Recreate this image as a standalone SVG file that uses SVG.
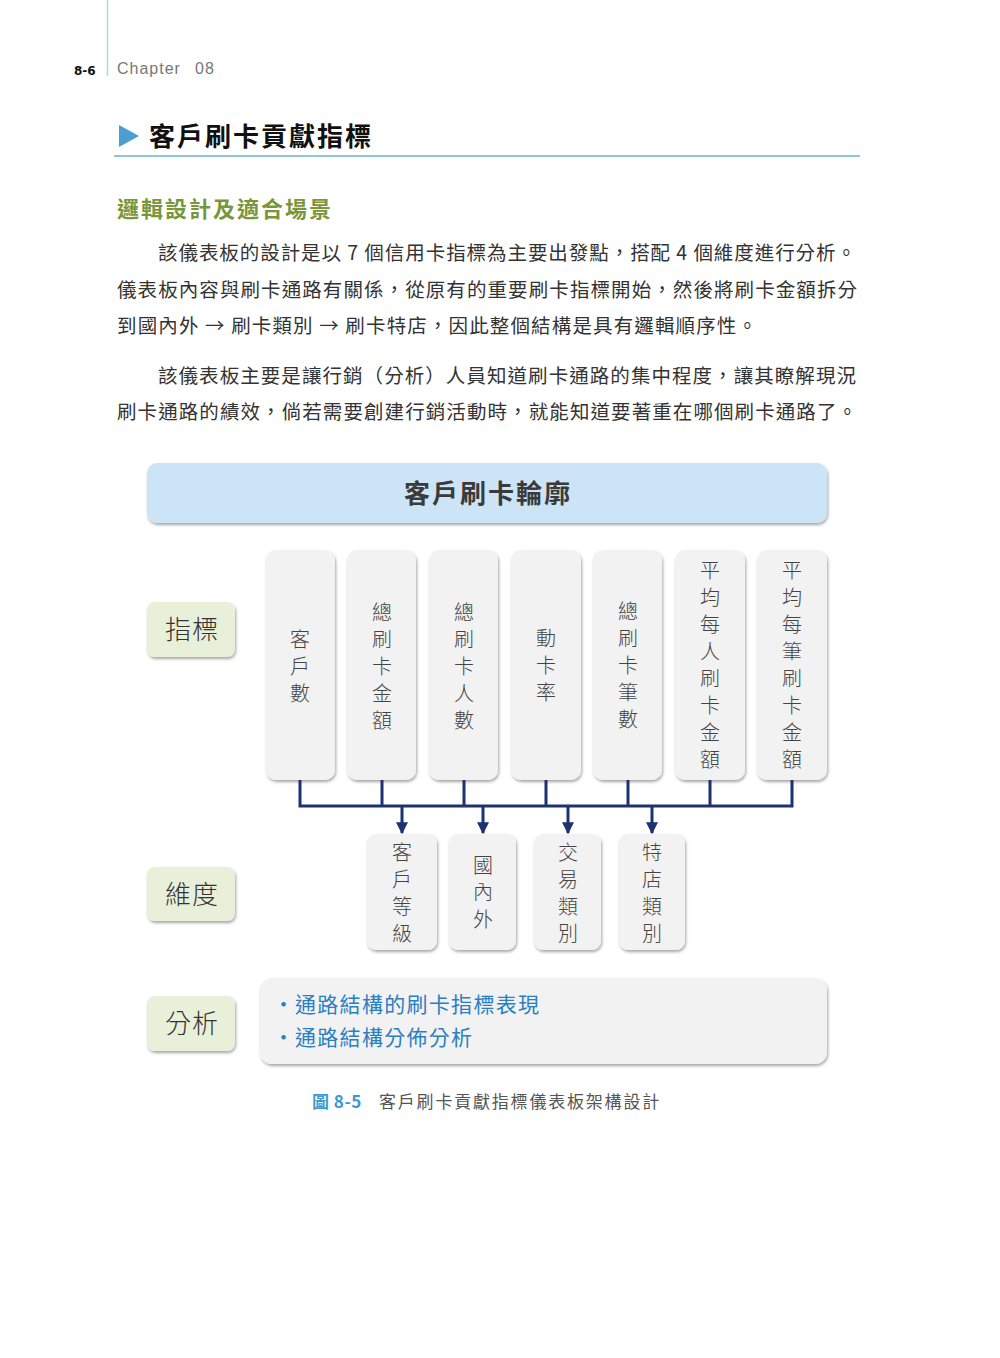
<svg xmlns="http://www.w3.org/2000/svg" width="1000" height="1358" viewBox="0 0 1000 1358">
<style>
text{font-family:"Noto Sans CJK TC","Noto Sans CJK SC",sans-serif}
.body{font-size:19.5px;fill:#333}
.lbl{font-size:26px;fill:#333;text-anchor:middle;font-weight:300}
.col{fill:#f2f2f2}
.vt{font-size:20px;fill:#444;text-anchor:middle;font-weight:300}
.green{fill:#e9f0da}
.conn{stroke:#1d3270;stroke-width:3;fill:none}
.blue{font-size:21px;fill:#2a7fc2}
</style>
<defs>
<filter id="sh" x="-20%" y="-20%" width="140%" height="140%">
<feDropShadow dx="1" dy="2" stdDeviation="1.6" flood-color="#000" flood-opacity="0.35"/>
</filter>
<marker id="ah" viewBox="0 0 10 10" refX="9" refY="5" markerWidth="4" markerHeight="4" orient="auto" markerUnits="strokeWidth">
<path d="M0,0 L10,5 L0,10 z" fill="#1d3270"/>
</marker>
</defs>
<rect width="1000" height="1358" fill="#fff"/>

<!-- header -->
<line x1="107.5" y1="0" x2="107.5" y2="76" stroke="#a8dde0" stroke-width="1.5"/>
<text x="74" y="75" font-size="12" font-weight="bold" fill="#111" style="font-family:'DejaVu Sans',sans-serif">8-6</text>
<text x="117" y="74" font-size="16" fill="#777" letter-spacing="1" style="font-family:'Liberation Sans',sans-serif">Chapter</text>
<text x="195" y="74" font-size="16" fill="#777" letter-spacing="1" style="font-family:'Liberation Sans',sans-serif">08</text>

<!-- title -->
<polygon points="119,125 139,136 119,147" fill="#4a9fd0"/>
<text x="149" y="146" font-size="26" font-weight="bold" fill="#111" letter-spacing="2">客戶刷卡貢獻指標</text>
<line x1="114" y1="156" x2="860" y2="156" stroke="#6ab2d2" stroke-width="1.5"/>

<text x="117" y="217" font-size="22" font-weight="bold" fill="#7a963a" letter-spacing="2">邏輯設計及適合場景</text>

<text class="body" x="158" y="260" textLength="698" lengthAdjust="spacing">該儀表板的設計是以 7 個信用卡指標為主要出發點，搭配 4 個維度進行分析。</text>
<text class="body" x="117" y="297" textLength="740" lengthAdjust="spacing">儀表板內容與刷卡通路有關係，從原有的重要刷卡指標開始，然後將刷卡金額拆分</text>
<text class="body" x="117" y="333" textLength="640" lengthAdjust="spacing">到國內外 → 刷卡類別 → 刷卡特店，因此整個結構是具有邏輯順序性。</text>
<text class="body" x="158" y="383" textLength="698" lengthAdjust="spacing">該儀表板主要是讓行銷（分析）人員知道刷卡通路的集中程度，讓其瞭解現況</text>
<text class="body" x="117" y="419" textLength="740" lengthAdjust="spacing">刷卡通路的績效，倘若需要創建行銷活動時，就能知道要著重在哪個刷卡通路了。</text>

<!-- banner -->
<g id="banner">
<rect x="147" y="463" width="680" height="60" rx="10" fill="#cce4f5" filter="url(#sh)"/>
<text x="488" y="503" font-size="26" font-weight="bold" fill="#3a3a3a" text-anchor="middle" letter-spacing="2">客戶刷卡輪廓</text>
</g>

<!-- side labels -->
<g id="lbl-metrics"><rect class="green" x="147" y="602" width="88" height="55" rx="8" filter="url(#sh)"/><text class="lbl" x="192" y="639" letter-spacing="1">指標</text></g>
<g id="lbl-dims"><rect class="green" x="147" y="867" width="88" height="54" rx="8" filter="url(#sh)"/><text class="lbl" x="192" y="904" letter-spacing="1">維度</text></g>
<g id="lbl-analysis"><rect class="green" x="147" y="996" width="88" height="55" rx="8" filter="url(#sh)"/><text class="lbl" x="192" y="1033" letter-spacing="1">分析</text></g>

<!-- metric columns -->
<g id="m1"><rect class="col" x="266" y="550" width="69" height="230" rx="10" filter="url(#sh)"/>
<text class="vt"><tspan x="300" y="647">客</tspan><tspan x="300" dy="27">戶</tspan><tspan x="300" dy="27">數</tspan></text></g>
<g id="m2"><rect class="col" x="347" y="550" width="69" height="230" rx="10" filter="url(#sh)"/>
<text class="vt"><tspan x="382" y="620">總</tspan><tspan x="382" dy="27">刷</tspan><tspan x="382" dy="27">卡</tspan><tspan x="382" dy="27">金</tspan><tspan x="382" dy="27">額</tspan></text></g>
<g id="m3"><rect class="col" x="429" y="550" width="69" height="230" rx="10" filter="url(#sh)"/>
<text class="vt"><tspan x="464" y="620">總</tspan><tspan x="464" dy="27">刷</tspan><tspan x="464" dy="27">卡</tspan><tspan x="464" dy="27">人</tspan><tspan x="464" dy="27">數</tspan></text></g>
<g id="m4"><rect class="col" x="511" y="550" width="70" height="230" rx="10" filter="url(#sh)"/>
<text class="vt"><tspan x="546" y="646">動</tspan><tspan x="546" dy="27">卡</tspan><tspan x="546" dy="27">率</tspan></text></g>
<g id="m5"><rect class="col" x="593" y="550" width="69" height="230" rx="10" filter="url(#sh)"/>
<text class="vt"><tspan x="628" y="619">總</tspan><tspan x="628" dy="27">刷</tspan><tspan x="628" dy="27">卡</tspan><tspan x="628" dy="27">筆</tspan><tspan x="628" dy="27">數</tspan></text></g>
<g id="m6"><rect class="col" x="675" y="550" width="70" height="230" rx="10" filter="url(#sh)"/>
<text class="vt"><tspan x="710" y="578">平</tspan><tspan x="710" dy="27">均</tspan><tspan x="710" dy="27">每</tspan><tspan x="710" dy="27">人</tspan><tspan x="710" dy="27">刷</tspan><tspan x="710" dy="27">卡</tspan><tspan x="710" dy="27">金</tspan><tspan x="710" dy="27">額</tspan></text></g>
<g id="m7"><rect class="col" x="757" y="550" width="70" height="230" rx="10" filter="url(#sh)"/>
<text class="vt"><tspan x="792" y="578">平</tspan><tspan x="792" dy="27">均</tspan><tspan x="792" dy="27">每</tspan><tspan x="792" dy="27">筆</tspan><tspan x="792" dy="27">刷</tspan><tspan x="792" dy="27">卡</tspan><tspan x="792" dy="27">金</tspan><tspan x="792" dy="27">額</tspan></text></g>

<!-- connectors -->
<g id="connectors">
<path class="conn" d="M300,780 V806 M382,780 V806 M464,780 V806 M546,780 V806 M628,780 V806 M710,780 V806 M792,780 V806 M298.5,806 H793.5"/>
<line class="conn" x1="402" y1="806" x2="402" y2="833" marker-end="url(#ah)"/>
<line class="conn" x1="483" y1="806" x2="483" y2="833" marker-end="url(#ah)"/>
<line class="conn" x1="568" y1="806" x2="568" y2="833" marker-end="url(#ah)"/>
<line class="conn" x1="652" y1="806" x2="652" y2="833" marker-end="url(#ah)"/>
</g>

<!-- dimensions -->
<g id="d1"><rect class="col" x="367" y="834" width="70" height="116" rx="9" filter="url(#sh)"/>
<text class="vt"><tspan x="402" y="860">客</tspan><tspan x="402" dy="27">戶</tspan><tspan x="402" dy="27">等</tspan><tspan x="402" dy="27">級</tspan></text></g>
<g id="d2"><rect class="col" x="449" y="834" width="67" height="116" rx="9" filter="url(#sh)"/>
<text class="vt"><tspan x="483" y="873">國</tspan><tspan x="483" dy="27">內</tspan><tspan x="483" dy="27">外</tspan></text></g>
<g id="d3"><rect class="col" x="534" y="834" width="67" height="116" rx="9" filter="url(#sh)"/>
<text class="vt"><tspan x="568" y="860">交</tspan><tspan x="568" dy="27">易</tspan><tspan x="568" dy="27">類</tspan><tspan x="568" dy="27">別</tspan></text></g>
<g id="d4"><rect class="col" x="619" y="834" width="66" height="116" rx="9" filter="url(#sh)"/>
<text class="vt"><tspan x="652" y="860">特</tspan><tspan x="652" dy="27">店</tspan><tspan x="652" dy="27">類</tspan><tspan x="652" dy="27">別</tspan></text></g>

<!-- analysis -->
<g id="analysis">
<rect class="col" x="260" y="978" width="567" height="86" rx="12" filter="url(#sh)"/>
<text class="blue" x="273" y="1012">•</text><text class="blue" x="295" y="1012" letter-spacing="1.3">通路結構的刷卡指標表現</text>
<text class="blue" x="273" y="1045">•</text><text class="blue" x="295" y="1045" letter-spacing="1.3">通路結構分佈分析</text>
</g>

<!-- caption -->
<text x="312" y="1108" font-size="17" fill="#3a9ad0" font-weight="bold" letter-spacing="0.5">圖 8-5</text>
<text x="379" y="1108" font-size="17" fill="#555" letter-spacing="1.8">客戶刷卡貢獻指標儀表板架構設計</text>
</svg>
